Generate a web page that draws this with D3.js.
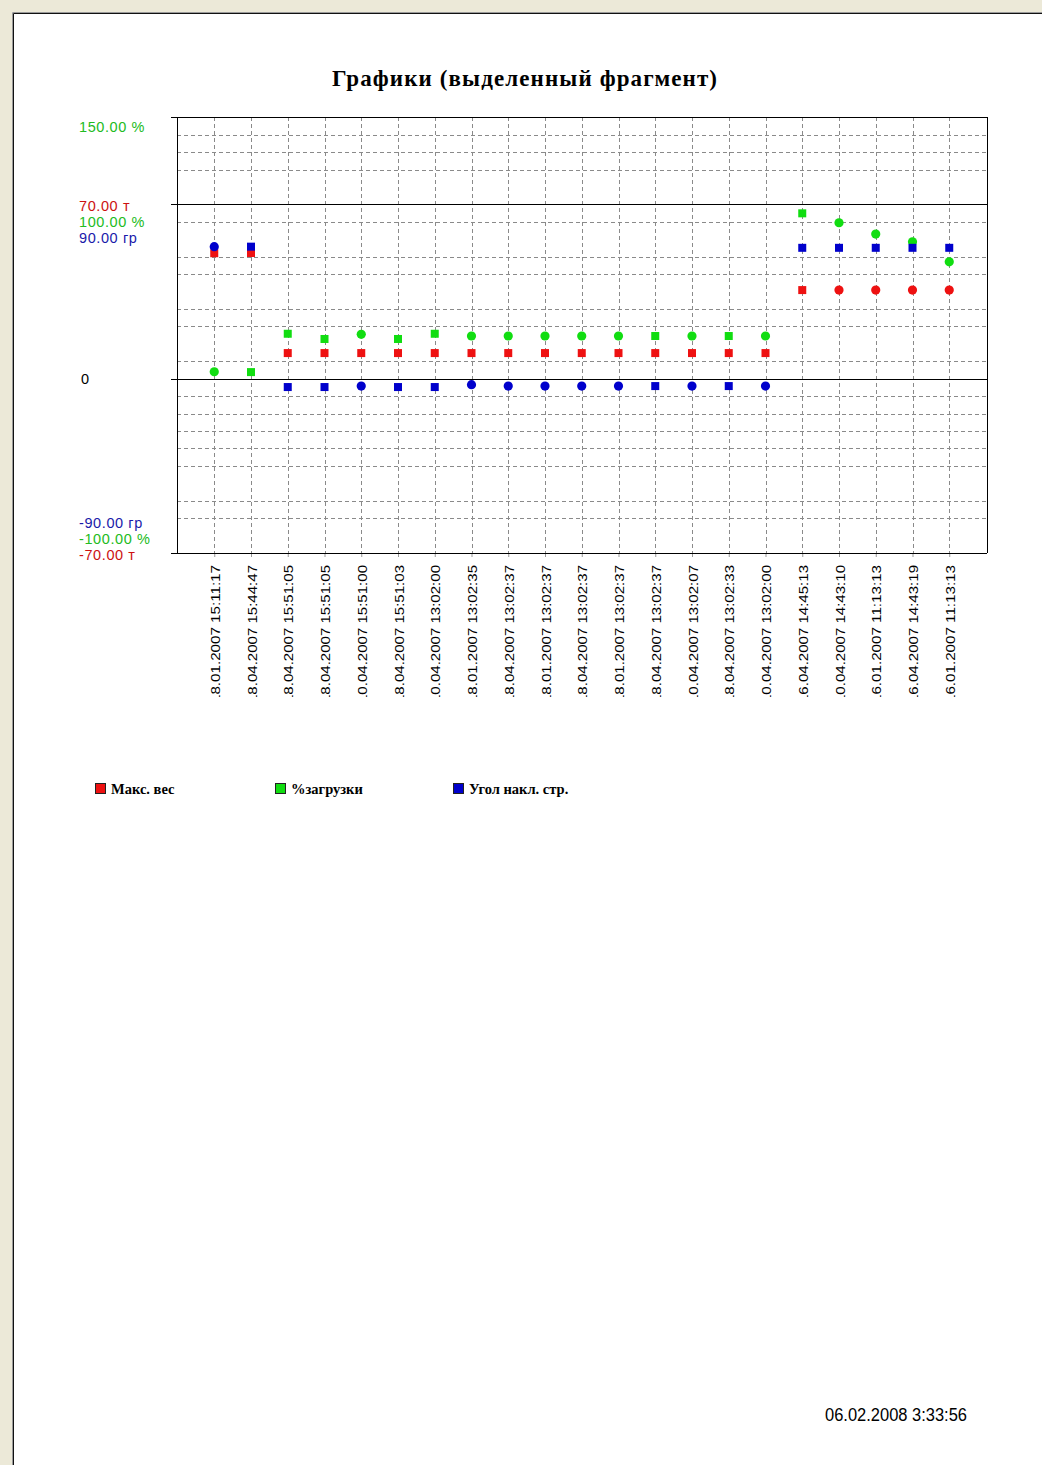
<!DOCTYPE html>
<html>
<head>
<meta charset="utf-8">
<script src="https://cdn.jsdelivr.net/npm/d3@7"></script>
<style>
  body { margin: 0; background: #ece9d8; }
  .grid line { stroke: #8a8a8a; stroke-dasharray: 4,3; shape-rendering: crispEdges; }
  .grid path { display: none; }
</style>
</head>
<body>
<div class="chart"></div>
<script>
// categories (timestamps under the x axis)
var categories = [
  "18.01.2007 15:11:17", "18.04.2007 15:44:47", "18.04.2007 15:51:05", "18.04.2007 15:51:05",
  "10.04.2007 15:51:00", "18.04.2007 15:51:03", "10.04.2007 13:02:00", "18.01.2007 13:02:35",
  "18.04.2007 13:02:37", "18.01.2007 13:02:37", "18.04.2007 13:02:37", "18.01.2007 13:02:37",
  "18.04.2007 13:02:37", "10.04.2007 13:02:07", "18.04.2007 13:02:33", "10.04.2007 13:02:00",
  "16.04.2007 14:45:13", "10.04.2007 14:43:10", "16.01.2007 11:13:13", "16.04.2007 14:43:19",
  "16.01.2007 11:13:13"
];

// series values
var maxWeight = [50.4, 50.5, 10.3, 10.3, 10.3, 10.3, 10.3, 10.3, 10.3, 10.3, 10.3, 10.3, 10.3, 10.3, 10.3, 10.3,
  35.6, 35.6, 35.6, 35.6, 35.6];                       // т
var loadPct = [4.0, 3.8, 25.8, 22.8, 25.5, 22.8, 25.8, 24.5, 24.5, 24.5, 24.5, 24.5, 24.5, 24.5, 24.5, 24.5,
  94.9, 89.5, 83.0, 78.6, 67.1];                       // %
var boomAngle = [68.2, 68.2, -4.3, -4.3, -3.8, -4.3, -4.3, -3.1, -3.8, -3.8, -3.8, -3.8, -3.8, -3.8, -3.8, -3.8,
  67.6, 67.6, 67.6, 67.6, 67.6];                       // гр

// axis maxima for each series (they share one percent scale)
var seriesMax = [70, 100, 90];
var seriesNames = ["Макс. вес", "%загрузки", "Угол накл. стр."];
var seriesColors = ["#ee1111", "#11dd11", "#0000cc"];
var labelColors = ["#cc1111", "#22bb22", "#1a1aaa"];

// marker kinds as rendered in the original (s = square, c = circle)
var markerKinds = [
  "ssssssssssssssssscccc",
  "cssscsscccccscscscccc",
  "cssscsscccccscscsssss"
];

// y tick labels per axis
var topLabels = ["70.00 т", "100.00 %", "90.00 гр"];
var bottomLabels = ["-70.00 т", "-100.00 %", "-90.00 гр"];
var gridValues = [140, 130, 120, 90, 70, 60, 40, 30, 10, -10, -20, -30, -40, -50, -70, -80];
var axisValues = [-100, 0, 100, 150];

var svgWidth = 1042;
var svgHeight = 1465;

var svg = d3.select(".chart").append("svg")
  .attr("width", svgWidth)
  .attr("height", svgHeight)
  .style("display", "block");

// page sheet
svg.append("rect").attr("width", svgWidth).attr("height", svgHeight).attr("fill", "#ece9d8");
svg.append("rect").attr("x", 12).attr("y", 12).attr("width", svgWidth).attr("height", svgHeight).attr("fill", "#fff");
svg.append("path").attr("d", "M12.5," + svgHeight + "V12.5H" + svgWidth).attr("fill", "none").attr("stroke", "#9a9a9a");
svg.append("path").attr("d", "M13.5," + svgHeight + "V13.5H" + svgWidth).attr("fill", "none").attr("stroke", "#111");

var plot = { left: 176.5, right: 987, top: 117.3, bottom: 553 };

var x = d3.scalePoint().domain(d3.range(categories.length)).range([177.5, 986]).padding(1);
var y = d3.scaleLinear().domain([-100, 150]).range([plot.bottom, plot.top]);

// title
svg.append("text")
  .attr("x", 332).attr("y", 86)
  .attr("textLength", 385).attr("lengthAdjust", "spacing")
  .style("font", "bold 23px 'Liberation Serif', 'Times New Roman', serif")
  .text("Графики (выделенный фрагмент)");

// horizontal dashed grid
svg.append("g").attr("class", "grid")
  .attr("transform", "translate(" + plot.left + ",0)")
  .call(d3.axisLeft(y).tickValues(gridValues).tickSize(-(plot.right - plot.left)).tickFormat(""));

// vertical dashed grid
svg.append("g").attr("class", "grid")
  .attr("transform", "translate(0," + plot.top + ")")
  .call(d3.axisTop(x).tickSize(-(plot.bottom - plot.top)).tickFormat(""));

// small ticks under the plot
svg.append("g")
  .attr("transform", "translate(0," + plot.bottom + ")")
  .call(d3.axisBottom(x).tickSize(4).tickFormat(""))
  .call(function(g) { g.select(".domain").remove(); g.selectAll("line").attr("stroke", "#999"); });

// solid lines at -100, 0, 100, 150 with left ticks
svg.append("g")
  .attr("transform", "translate(" + plot.left + ",0)")
  .call(d3.axisLeft(y).tickValues(axisValues).tickSize(6).tickFormat(""))
  .call(function(g) {
    g.select(".domain").attr("d", "M0.5," + plot.top + "V" + plot.bottom).attr("stroke", "#000");
    g.selectAll(".tick line").attr("stroke", "#000");
    g.selectAll(".tick").append("line")
      .attr("x1", 0).attr("x2", plot.right - plot.left)
      .attr("stroke", "#000");
  })
  .attr("shape-rendering", "crispEdges");

svg.append("line")
  .attr("x1", plot.right).attr("x2", plot.right)
  .attr("y1", plot.top).attr("y2", plot.bottom)
  .attr("stroke", "#000").attr("shape-rendering", "crispEdges");

// y labels
var labelFont = "14.5px 'Liberation Sans', Arial, sans-serif";
function yLabel(t, px, py, color) {
  svg.append("text").attr("x", px).attr("y", py)
    .attr("fill", color).style("font", labelFont)
    .style("letter-spacing", "0.6px")
    .text(t);
}
yLabel("150.00 %", 79, y(150) + 15, labelColors[1]);
topLabels.forEach(function(t, i) {
  yLabel(t, 79, y(100) + 7 + i * 16, labelColors[i]);
});
yLabel("0", 81, y(0) + 5, "#000");
bottomLabels.slice().reverse().forEach(function(t, j) {
  yLabel(t, 79, y(-100) - 25 + j * 16, labelColors[2 - j]);
});

// x labels, rotated, clipped at the bottom like the original
svg.append("clipPath").attr("id", "xlab")
  .append("rect").attr("x", 150).attr("y", 555).attr("width", 860).attr("height", 142);

svg.append("g").attr("clip-path", "url(#xlab)")
  .selectAll("text")
  .data(categories)
  .enter()
  .append("text")
  .attr("transform", function(d, i) { return "translate(" + (x(i) + 1) + ",565) rotate(-90)"; })
  .attr("text-anchor", "end")
  .attr("dy", "0.35em")
  .attr("textLength", 138).attr("lengthAdjust", "spacingAndGlyphs")
  .style("font", "13px 'Liberation Sans', Arial, sans-serif")
  .text(function(d) { return d; });

// markers
var series = [maxWeight, loadPct, boomAngle];
series.forEach(function(values, s) {
  var pts = values.map(function(v, i) {
    return { i: i, p: v / seriesMax[s] * 100, k: markerKinds[s].charAt(i) };
  });
  var g = svg.append("g").attr("fill", seriesColors[s]);
  g.selectAll("rect")
    .data(pts.filter(function(d) { return d.k === "s"; }))
    .enter().append("rect")
    .attr("x", function(d) { return x(d.i) - 4; })
    .attr("y", function(d) { return y(d.p) - 4; })
    .attr("width", 8).attr("height", 8);
  g.selectAll("circle")
    .data(pts.filter(function(d) { return d.k === "c"; }))
    .enter().append("circle")
    .attr("cx", function(d) { return x(d.i); })
    .attr("cy", function(d) { return y(d.p); })
    .attr("r", 4.6);
});

// legend
var legendX = [95, 275, 453];
seriesNames.forEach(function(name, i) {
  svg.append("rect")
    .attr("x", legendX[i] + 0.5).attr("y", 783.5)
    .attr("width", 10).attr("height", 10)
    .attr("fill", seriesColors[i]).attr("stroke", "#222");
  svg.append("text")
    .attr("x", legendX[i] + 16).attr("y", 794)
    .style("font", "bold 14.5px 'Liberation Serif', 'Times New Roman', serif")
    .text(name);
});

// print date
svg.append("text")
  .attr("x", 825).attr("y", 1421)
  .attr("textLength", 142).attr("lengthAdjust", "spacingAndGlyphs")
  .style("font", "18px 'Liberation Sans', Arial, sans-serif")
  .text("06.02.2008 3:33:56");
</script>
</body>
</html>
